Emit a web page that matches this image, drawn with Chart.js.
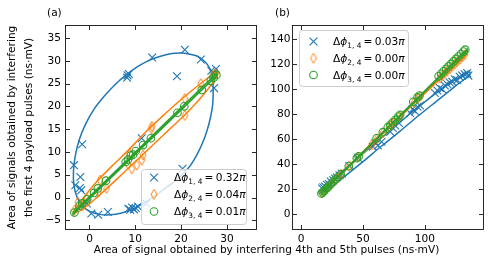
<!DOCTYPE html>
<html>
<head>
<meta charset="utf-8">
<script src="https://cdn.jsdelivr.net/npm/chart.js@4.4.1/dist/chart.umd.min.js"></script>
<style>
  html, body { margin: 0; padding: 0; background: #fff; }
  #wrap { position: relative; width: 491px; height: 266px; }
  #wrap canvas { position: absolute; left: 0; top: 0; }
</style>
</head>
<body>
<div id="wrap">
  <canvas id="chartA" width="491" height="266"></canvas>
  <canvas id="chartB" width="491" height="266"></canvas>
</div>
<script>
// ---- panel (a) data ----
const aBlueX = [20.8, 13.7, 24.3, 8.3, 8.6, 8.2, 19.1, 26.6, 27.6, 27.1, 27.2, -1.6, -3.4, -2.0, -3.1, -2.1, -1.8, -0.6, 0.4, 1.9, 4.0, 8.5, 8.9, 9.3, 9.7, 10.1, 10.6, 12.4, 11.4, 20.3];
const aBlueY = [32.4, 30.7, 30.3, 26.8, 27.1, 26.3, 26.6, 27.8, 28.2, 27.4, 24.0, 11.7, 7.1, 4.5, 2.7, 2.1, 1.6, -1.3, -3.5, -3.8, -3.2, -2.5, -2.7, -2.2, -2.6, -2.3, -2.0, -1.3, 13.0, 6.3];
const aOrangeX = [-3.3, -2.5, -1.5, -0.6, 1.9, 2.3, 3.7, 8.4, 8.8, 9.2, 10.3, 11.4, 11.7, 13.5, 13.6, 20.8, 20.8, 24.3, 26.9, 27.5];
const aOrangeY = [-2.8, -1.0, -1.8, -0.2, 1.2, 3.8, 2.0, 7.4, 9.6, 6.3, 7.1, 8.2, 9.3, 15.1, 15.6, 21.7, 18.0, 25.0, 26.8, 27.2];
const aGreenX = [-3.3, -2.2, -1.6, -0.5, 1.0, 1.8, 3.6, 7.9, 8.4, 9.0, 9.5, 10.1, 11.7, 13.4, 19.2, 20.7, 24.5, 26.5, 27.1, 27.7];
const aGreenY = [-3.3, -1.8, -1.3, -0.4, 1.0, 2.0, 3.7, 7.8, 8.3, 9.2, 9.4, 10.2, 11.5, 13.0, 18.6, 20.0, 23.6, 25.6, 26.3, 26.9];
// fitted curves
const aBlueFitX = [20.3, 18.0, 15.5, 13.0, 10.5, 8.0, 5.5, 3.2, 1.0, -0.8, -2.2, -3.1, -3.5, -3.4, -2.7, -1.5, 0.2, 2.2, 4.5, 7.0, 9.5, 12.0, 14.6, 17.2, 19.8, 22.0, 23.4, 24.6, 25.6, 26.4, 26.9, 27.0, 26.8, 26.2, 25.1, 23.3, 20.3];
const aBlueFitY = [31.7, 31.6, 31.0, 30.1, 28.7, 26.9, 24.7, 22.2, 19.4, 16.2, 12.8, 9.2, 5.8, 2.7, 0.0, -1.9, -3.1, -3.7, -3.8, -3.4, -2.5, -1.1, 0.6, 2.5, 4.6, 7.0, 9.3, 11.8, 14.5, 17.5, 20.5, 24.0, 26.5, 28.4, 29.9, 31.1, 31.7];
const aOrangeFitX = [-3.3, -1.5, 1.5, 5.0, 8.5, 12.0, 16.0, 20.0, 24.0, 27.0, 28.0, 27.8, 25.5, 21.5, 17.5, 13.5, 9.5, 5.5, 1.5, -1.5, -3.3, -3.3];
const aOrangeFitY = [-2.7, -0.3, 3.4, 7.0, 10.4, 14.1, 17.9, 21.5, 24.8, 27.1, 27.6, 26.6, 23.3, 18.8, 15.0, 11.2, 7.4, 3.6, -0.1, -2.6, -3.3, -2.7];
const aGreenFitX = [-3.6, 27.8, 27.8, -3.6, -3.6];
const aGreenFitY = [-3.3, 27.3, 26.8, -3.7, -3.3];
const aXTicks = [0, 10, 20, 30];
const aYTicks = [-5, 0, 5, 10, 15, 20, 25, 30, 35];
const aPhase = ['0.32', '0.04', '0.01'];

// ---- panel (b) data ----
const bBlueX = [17, 18, 19.5, 21, 22.5, 24, 26, 27.5, 29, 31, 33, 39, 46, 58, 60, 62, 65, 72, 74, 76, 79, 88, 90, 92, 94, 96, 108, 110, 112, 114, 116, 118, 120, 122, 124, 126, 128, 130, 132, 134, 135];
const bBlueY = [20.5, 21.5, 22, 23.5, 24, 26, 27, 28.5, 29.5, 31, 32.5, 38.5, 45, 54, 57, 55, 58, 66, 69, 71, 73, 81, 84, 82.5, 86, 87, 97, 99, 101, 100, 103, 104, 105.5, 106, 108, 107.5, 110, 111, 112, 113, 111];
const bOrangeX = [17, 18.5, 20, 22, 25, 27, 30, 32.5, 39, 46, 57, 61.5, 66, 71, 73, 75, 77, 80, 91, 94.5, 96, 112, 114, 116, 118, 120, 122, 124, 126, 128, 130, 132];
const bOrangeY = [16.8, 18.2, 19.7, 21.6, 24.6, 26.5, 29.5, 32, 38.6, 45.8, 55.5, 60.5, 65.2, 69.8, 71.8, 73.8, 75.7, 78.8, 89.5, 93, 94.5, 109, 111, 112.8, 114.6, 116.6, 118.5, 120.3, 122.2, 124.1, 125.9, 127.7];
const bGreenX = [16.5, 17.5, 18.5, 19.5, 21, 22, 24, 26, 28, 30, 32, 38.5, 45, 46.5, 61, 66, 70, 72, 74, 76, 78.5, 80, 90.5, 94, 95.5, 111, 113, 115, 117, 119, 121, 123, 125, 127, 129, 131, 132.5];
const bGreenY = [16.5, 17.4, 18.4, 19.4, 20.9, 21.9, 23.9, 25.9, 27.9, 29.8, 31.8, 38.3, 44.8, 46.2, 60.7, 65.6, 69.6, 71.6, 73.6, 75.6, 78.1, 79.6, 90.0, 93.5, 95.0, 110.4, 112.4, 114.4, 116.4, 118.4, 120.4, 122.4, 124.4, 126.3, 128.3, 130.3, 131.8];
const bBlueFitX = [17, 30, 45, 60, 75, 90, 105, 120, 130, 136, 136, 125, 110, 95, 80, 65, 50, 35, 25, 17, 17];
const bBlueFitY = [21, 31.5, 44, 57, 69.5, 82, 94, 105, 111, 114, 111.5, 103, 91, 79, 66.5, 54.5, 42, 30, 22.5, 18, 21];
const bOrangeFitX = [16.5, 60, 134, 134, 90, 16.5, 16.5];
const bOrangeFitY = [16.6, 59.8, 131, 128.2, 87.6, 16.2, 16.6];
const bGreenFitX = [16.5, 134, 134, 16.5, 16.5];
const bGreenFitY = [17.0, 132.3, 131.5, 16.3, 17.0];
const bXTicks = [0, 50, 100];
const bYTicks = [0, 20, 40, 60, 80, 100, 120, 140];
const bPhase = ['0.03', '0.00', '0.00'];

const legendSubs = ['1, 4', '2, 4', '3, 4'];
const xTitle = 'Area of signal obtained by interfering 4th and 5th pulses (ns\u00b7mV)';
const yTitle = ['Area of signals obtained by interfering', 'the first 4 payload pulses (ns\u00b7mV)'];

const BLUE = '#1f77b4', ORANGE = '#ff7f0e', GREEN = '#2ca02c';
const FAMILY = '"DejaVu Sans", sans-serif';
const FS = 10.6;

function pts(xs, ys) { return xs.map((x, i) => ({ x: x, y: ys[i] })); }

function thinDiamond(color) {
  const c = document.createElement('canvas');
  c.width = 8; c.height = 12;
  const g = c.getContext('2d');
  g.strokeStyle = color; g.lineWidth = 1;
  g.beginPath();
  g.moveTo(4, 1); g.lineTo(7, 6); g.lineTo(4, 11); g.lineTo(1, 6); g.closePath();
  g.stroke();
  return c;
}
const diamondImg = thinDiamond(ORANGE);

function fitSet(xs, ys, color, width, tension, order) {
  return { data: pts(xs, ys), showLine: true, borderColor: color, borderWidth: width,
    pointRadius: 0, tension: tension, fill: false, order: order };
}
function markSet(xs, ys, color, style, radius, order) {
  return { data: pts(xs, ys), showLine: false, pointStyle: style, pointRadius: radius,
    borderColor: color, backgroundColor: 'rgba(0,0,0,0)', pointBorderWidth: 1.1, order: order };
}

function drawMarker(ctx, kind, x, y) {
  ctx.save();
  ctx.lineWidth = 1.1;
  if (kind === 0) {
    ctx.strokeStyle = BLUE;
    ctx.beginPath();
    ctx.moveTo(x - 3.9, y - 3.9); ctx.lineTo(x + 3.9, y + 3.9);
    ctx.moveTo(x - 3.9, y + 3.9); ctx.lineTo(x + 3.9, y - 3.9);
    ctx.stroke();
  } else if (kind === 1) {
    ctx.drawImage(diamondImg, x - 4, y - 6);
  } else {
    ctx.strokeStyle = GREEN;
    ctx.beginPath(); ctx.arc(x, y, 3.8, 0, Math.PI * 2); ctx.stroke();
  }
  ctx.restore();
}

function drawMathLabel(ctx, x, base, sub, val) {
  let cx = x;
  const up = FS + 'px ' + FAMILY, it = 'italic ' + FS + 'px ' + FAMILY;
  ctx.fillStyle = '#000';
  ctx.textAlign = 'left';
  ctx.textBaseline = 'alphabetic';
  ctx.font = up; ctx.fillText('\u0394', cx, base); cx += ctx.measureText('\u0394').width;
  ctx.font = it; ctx.fillText('\u03d5', cx, base); cx += ctx.measureText('\u03d5').width;
  ctx.font = (FS * 0.7) + 'px ' + FAMILY; ctx.fillText(sub, cx, base + 2.6); cx += ctx.measureText(sub).width;
  ctx.font = up;
  cx += 2.2; ctx.fillText('=', cx, base); cx += ctx.measureText('=').width + 2.2;
  ctx.fillText(val, cx, base); cx += ctx.measureText(val).width;
  ctx.font = it; ctx.fillText('\u03c0', cx, base);
}

function roundRect(ctx, x, y, w, h, r) {
  ctx.beginPath();
  ctx.moveTo(x + r, y); ctx.lineTo(x + w - r, y); ctx.quadraticCurveTo(x + w, y, x + w, y + r);
  ctx.lineTo(x + w, y + h - r); ctx.quadraticCurveTo(x + w, y + h, x + w - r, y + h);
  ctx.lineTo(x + r, y + h); ctx.quadraticCurveTo(x, y + h, x, y + h - r);
  ctx.lineTo(x, y + r); ctx.quadraticCurveTo(x, y, x + r, y);
  ctx.closePath();
}

function decor(cfg) {
  return {
    id: 'decor',
    afterDatasetsDraw(chart) {
      const ctx = chart.ctx, a = chart.chartArea, sx = chart.scales.x, sy = chart.scales.y;
      ctx.save();
      // inward ticks on all four sides, then the frame
      ctx.strokeStyle = '#111'; ctx.lineWidth = 0.9;
      ctx.beginPath();
      sx.ticks.forEach(t => {
        const p = Math.round(sx.getPixelForValue(t.value)) + 0.5;
        ctx.moveTo(p, a.bottom); ctx.lineTo(p, a.bottom - 4);
        ctx.moveTo(p, a.top); ctx.lineTo(p, a.top + 4);
      });
      sy.ticks.forEach(t => {
        const p = Math.round(sy.getPixelForValue(t.value)) + 0.5;
        ctx.moveTo(a.left, p); ctx.lineTo(a.left + 4, p);
        ctx.moveTo(a.right, p); ctx.lineTo(a.right - 4, p);
      });
      ctx.stroke();
      ctx.strokeRect(a.left - 0.5, a.top - 0.5, a.right - a.left + 1, a.bottom - a.top + 1);

      // legend
      const L = cfg.legend;
      roundRect(ctx, L.x + 0.5, L.y + 0.5, L.w, L.h, 3);
      ctx.fillStyle = 'rgba(255,255,255,0.8)'; ctx.fill();
      ctx.strokeStyle = '#cccccc'; ctx.lineWidth = 1; ctx.stroke();
      L.rows.forEach((ry, i) => {
        drawMarker(ctx, i, L.mx, ry);
        drawMathLabel(ctx, L.tx, ry + 3.9, legendSubs[i], cfg.phase[i]);
      });

      // panel letter
      ctx.font = FS + 'px ' + FAMILY; ctx.fillStyle = '#000';
      ctx.textAlign = 'left'; ctx.textBaseline = 'alphabetic';
      ctx.fillText(cfg.letter, cfg.letterX, 16);
      if (cfg.xTitle) {
        ctx.textAlign = 'center';
        ctx.fillText(xTitle, 266.5, 253);
      }
      ctx.restore();
    }
  };
}

function fmt(v) { return String(v).replace('-', '\u2212'); }

function makeChart(id, p) {
  return new Chart(document.getElementById(id), {
    type: 'scatter',
    data: { datasets: p.datasets },
    options: {
      responsive: false, animation: false, devicePixelRatio: 1, events: [],
      layout: { padding: p.pad },
      plugins: { legend: { display: false }, tooltip: { enabled: false } },
      scales: {
        x: {
          type: 'linear', min: p.xr[0], max: p.xr[1],
          grid: { display: false, drawTicks: false }, border: { display: false },
          ticks: { color: '#000', font: { family: FAMILY, size: FS }, padding: 3.5, maxRotation: 0, autoSkip: false, callback: fmt },
          afterBuildTicks: s => { s.ticks = p.xTicks.map(v => ({ value: v })); },
          afterFit: s => { s.height = p.xh; }
        },
        y: {
          type: 'linear', min: p.yr[0], max: p.yr[1],
          grid: { display: false, drawTicks: false }, border: { display: false },
          ticks: { color: '#000', font: { family: FAMILY, size: FS }, padding: p.ypad, autoSkip: false, callback: fmt },
          title: p.ytitle ? { display: true, text: yTitle, color: '#000',
            font: { family: FAMILY, size: FS, lineHeight: 17 / FS }, padding: { top: 4, bottom: 0 } } : { display: false },
          afterBuildTicks: s => { s.ticks = p.yTicks.map(v => ({ value: v })); },
          afterFit: s => { s.width = p.yw; }
        }
      }
    },
    plugins: [decor(p.decor)]
  });
}

makeChart('chartA', {
  datasets: [
    markSet(aGreenX, aGreenY, GREEN, 'circle', 3.8, 1),
    fitSet(aGreenFitX, aGreenFitY, GREEN, 1.5, 0, 2),
    markSet(aOrangeX, aOrangeY, ORANGE, diamondImg, 4, 3),
    fitSet(aOrangeFitX, aOrangeFitY, ORANGE, 1.5, 0.3, 4),
    markSet(aBlueX, aBlueY, BLUE, 'crossRot', 5.5, 5),
    fitSet(aBlueFitX, aBlueFitY, BLUE, 1.5, 0.35, 6)
  ],
  pad: { left: 0, top: 26, right: 235, bottom: 0 },
  xr: [-5.13, 36.35], yr: [-6.91, 37.63],
  xTicks: aXTicks, yTicks: aYTicks,
  xh: 37, yw: 66, ypad: 5, ytitle: true,
  decor: { letter: '(a)', letterX: 47, phase: aPhase,
    legend: { x: 141, y: 169, w: 105, h: 55, mx: 154, tx: 174, rows: [177.5, 194.5, 211.5] } }
});

makeChart('chartB', {
  datasets: [
    markSet(bGreenX, bGreenY, GREEN, 'circle', 3.8, 1),
    fitSet(bGreenFitX, bGreenFitY, GREEN, 1.5, 0, 2),
    markSet(bOrangeX, bOrangeY, ORANGE, diamondImg, 4, 3),
    fitSet(bOrangeFitX, bOrangeFitY, ORANGE, 1.5, 0, 4),
    markSet(bBlueX, bBlueY, BLUE, 'crossRot', 5.5, 5),
    fitSet(bBlueFitX, bBlueFitY, BLUE, 1.5, 0.3, 6)
  ],
  pad: { left: 253, top: 26, right: 8, bottom: 0 },
  xr: [-6.45, 146.8], yr: [-12.05, 150.8],
  xTicks: bXTicks, yTicks: bYTicks,
  xh: 37, yw: 40, ypad: 2.5, ytitle: false,
  decor: { letter: '(b)', letterX: 275, phase: bPhase, xTitle: true,
    legend: { x: 299, y: 30, w: 109, h: 56, mx: 313.5, tx: 333, rows: [41.5, 58.3, 75] } }
});
</script>
</body>
</html>
